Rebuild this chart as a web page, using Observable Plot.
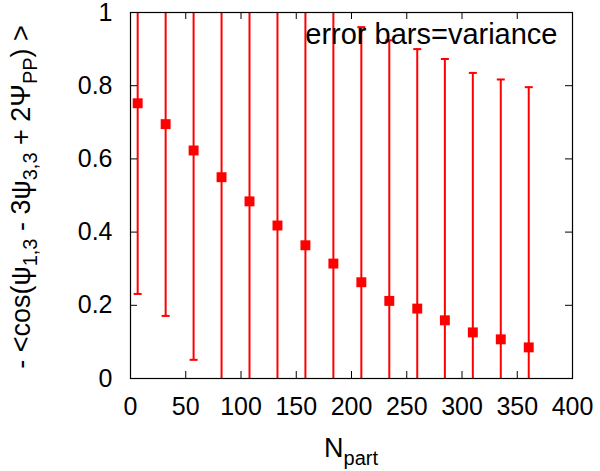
<!DOCTYPE html>
<html><head><meta charset="utf-8">
<script src="https://cdn.jsdelivr.net/npm/d3@7"></script>
<script src="https://cdn.jsdelivr.net/npm/@observablehq/plot@0.6"></script>
<style>body{margin:0;background:#fff} svg{display:block}</style>
</head><body><div id="chart"></div>
<script>
const nPart = [6.5, 31.8, 57.1, 82.4, 107.7, 133, 158.3, 183.6, 208.9, 234.2, 259.5, 284.5, 309.8, 335.1, 360.4];
const meanVal = [0.752, 0.695, 0.623, 0.550, 0.484, 0.418, 0.364, 0.314, 0.263, 0.212, 0.191, 0.159, 0.126, 0.107, 0.085];
const variance = [0.521, 0.524, 0.572, 0.60, 0.64, 0.67, 0.69, 0.70, 0.697, 0.712, 0.709, 0.714, 0.709, 0.710, 0.711];
const xTicks = [0, 50, 100, 150, 200, 250, 300, 350, 400];
const yTicks = [0, 0.2, 0.4, 0.6, 0.8, 1];
const keyText = "error bars=variance";

const W = 600, H = 471, mL = 130, mR = 28, mT = 12, mB = 93;
const innerH = H - mT - mB, innerW = W - mL - mR;
const data = nPart.map((x, i) => ({x, y: meanVal[i], lo: meanVal[i] - variance[i], hi: meanVal[i] + variance[i]}));
const capSymbol = {draw(ctx, size) { const w = Math.sqrt(size / Math.PI); ctx.moveTo(-w, 0); ctx.lineTo(w, 0); }};
const red = "#ff0000";
const font = "'Liberation Sans', Arial, Helvetica, sans-serif";

const chart = Plot.plot({
  width: W, height: H,
  marginLeft: mL, marginRight: mR, marginTop: mT, marginBottom: mB,
  style: {fontFamily: font, fontSize: "25px", color: "black", background: "white", overflow: "visible"},
  x: {domain: [0, 400]},
  y: {domain: [0, 1]},
  marks: [
    Plot.ruleX(data, {x: "x", y1: "lo", y2: "hi", stroke: red, strokeWidth: 2, clip: true}),
    Plot.dot(data, {x: "x", y: "lo", symbol: capSymbol, r: 4, stroke: red, strokeWidth: 2, fill: "none", clip: true}),
    Plot.dot(data, {x: "x", y: "hi", symbol: capSymbol, r: 4, stroke: red, strokeWidth: 2, fill: "none", clip: true}),
    Plot.dot(data, {x: "x", y: "y", symbol: "square", r: 5.6, fill: red, stroke: "none"}),
    Plot.tickX(xTicks, {x: d => d, insetTop: innerH - 7, stroke: "black", strokeWidth: 1}),
    Plot.tickX(xTicks, {x: d => d, insetBottom: innerH - 7, stroke: "black", strokeWidth: 1}),
    Plot.tickY(yTicks, {y: d => d, insetRight: innerW - 7, stroke: "black", strokeWidth: 1}),
    Plot.tickY(yTicks, {y: d => d, insetLeft: innerW - 7, stroke: "black", strokeWidth: 1}),
    Plot.axisX({ticks: xTicks, tickSize: 0, tickPadding: 19, label: null, tickFormat: d => String(d)}),
    Plot.axisY({ticks: yTicks, tickSize: 0, tickPadding: 18, label: null, tickFormat: d => String(d)}),
    Plot.frame({stroke: "black", strokeWidth: 1.2}),
    Plot.text([keyText], {text: d => d, frameAnchor: "top-right", textAnchor: "end", lineAnchor: "middle", dx: -15, dy: 22, fontSize: 29})
  ]
});
document.getElementById("chart").append(chart);

const svg = d3.select(chart);
// x axis title: N_part
const xt = svg.append("text")
  .attr("x", mL + innerW / 2).attr("y", 457)
  .attr("text-anchor", "middle").attr("font-size", 27).attr("font-family", font).attr("fill", "black");
xt.append("tspan").text("N");
xt.append("tspan").attr("font-size", 20).attr("dy", 8).text("part");

// y axis title
const yt = svg.append("text")
  .attr("transform", `translate(30,${mT + innerH / 2 + 2}) rotate(-90)`)
  .attr("text-anchor", "middle").attr("font-size", 27).attr("font-family", font).attr("fill", "black");
const parts = [["- <cos(\u03c8", 0], ["1,3", 1], [" - 3\u03c8", 0], ["3,3", 1], [" + 2\u03a8", 0], ["PP", 1], [") >", 0]];
let shifted = false;
for (const [t, sub] of parts) {
  const ts = yt.append("tspan").text(t);
  if (sub) { ts.attr("font-size", 20).attr("dy", 7); shifted = true; }
  else if (shifted) { ts.attr("dy", -7); shifted = false; }
}
</script>
</body></html>
